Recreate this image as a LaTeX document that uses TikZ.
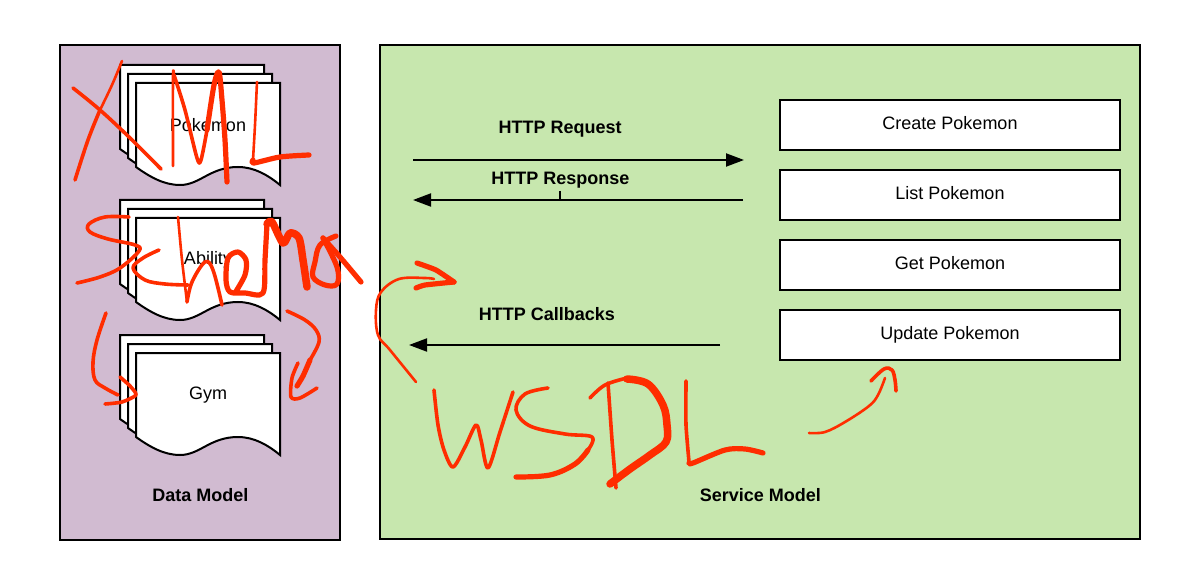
\documentclass[tikz,border=0pt]{standalone}
\usepackage{fontspec}
\setmainfont{Liberation Sans}
\usetikzlibrary{arrows.meta}
\definecolor{purplebg}{HTML}{D1BBD1}
\definecolor{greenbg}{HTML}{C7E7AE}
\definecolor{ink}{HTML}{FF2D00}
\tikzset{
  panel/.style={draw=black,line width=2pt},
  opbox/.style={draw=black,fill=white,line width=2pt,minimum width=340pt,minimum height=50pt,inner sep=0pt,font=\fontsize{18}{20}\selectfont},
  lbl/.style={font=\fontsize{18}{20}\selectfont,inner sep=0pt},
  blbl/.style={font=\fontsize{18}{20}\selectfont\bfseries,inner sep=0pt},
  flow/.style={draw=black,line width=2pt,-{Triangle[length=18pt,width=13pt]}},
  ink1/.style={draw=ink,line width=2.6pt,line cap=round,line join=round},
  ink2/.style={draw=ink,line width=3.6pt,line cap=round,line join=round},
  ink3/.style={draw=ink,line width=5.2pt,line cap=round,line join=round},
  ink4/.style={draw=ink,line width=7.5pt,line cap=round,line join=round},
  docsheet/.pic={
    \path[draw=black,fill=white,line width=2pt,line join=miter]
      (0,0) -- (0,84) .. controls (14,94) and (28,102) .. (44,102)
      .. controls (64,102) and (74,84) .. (102,84)
      .. controls (118,84) and (132,92) .. (144,102) -- (144,0) -- cycle;
  },
  docstack/.pic={
    \pic at (0,0) {docsheet};
    \pic at (8,9) {docsheet};
    \pic at (16,18) {docsheet};
  }
}
\begin{document}
\begin{tikzpicture}[x=1pt,y=-1pt]
\useasboundingbox (0,0) rectangle (1183,585);
\fill[white] (0,0) rectangle (1183,585);
% panels
\path[panel,fill=purplebg] (60,45) rectangle (340,540);
\path[panel,fill=greenbg] (380,45) rectangle (1140,539);
% documents
\pic at (120,65) {docstack};
\pic at (120,200) {docstack};
\pic at (120,335) {docstack};
\node[lbl] (pokemon) at (208,125) {Pokemon};
\node[lbl] (ability) at (208,260) {Ability};
\node[lbl] (gym) at (208,395) {Gym};
\node[blbl] (datamodel) at (200.3,495) {Data Model};
\node[blbl] (servicemodel) at (760.4,495) {Service Model};
% operations
\node[opbox] (create) at (950,125) {\raisebox{4pt}{Create Pokemon}};
\node[opbox] (list) at (950,195) {\raisebox{4pt}{List Pokemon}};
\node[opbox] (get) at (950,265) {\raisebox{4pt}{Get Pokemon}};
\node[opbox] (update) at (950,335) {\raisebox{4pt}{Update Pokemon}};
% flows
\node[blbl] (req) at (560.2,129) {HTTP Request};
\node[blbl] (resp) at (560.4,180) {HTTP Response};
\node[blbl] (cb) at (546.8,314) {HTTP Callbacks};
\coordinate (reqA) at (413,160); \coordinate (reqB) at (744,160);
\coordinate (respA) at (743,200); \coordinate (respB) at (413,200);
\coordinate (cbA) at (720,345); \coordinate (cbB) at (409,345);
\coordinate (tickA) at (560,191); \coordinate (tickB) at (560,200);
\draw[flow] (reqA) -- (reqB);
\draw[flow] (respA) -- (respB);
\draw[flow] (cbA) -- (cbB);
\draw[black,line width=1.5pt] (tickA) -- (tickB);
% handwriting: XML
\draw[ink1] plot[smooth,tension=.6] coordinates {(122,61) (112,85) (100,110)};
\draw[ink2] plot[smooth,tension=.6] coordinates {(100,110) (88,140) (75,180)};
\draw[ink2] plot[smooth,tension=.6] coordinates {(73,88) (100,110) (130,138) (161,169)};
\draw[ink1] plot[smooth,tension=.5] coordinates {(173,166) (173,76) (174,75)};
\draw[ink2] plot[smooth,tension=.5] coordinates {(174,75) (185,110) (197,158) (201,160) (207,130)};
\draw[ink3] plot[smooth,tension=.5] coordinates {(207,130) (214,85) (219,72) (222,100) (225,140) (227,182)};
\draw[ink1] plot[smooth,tension=.5] coordinates {(257,82) (255,125) (253,160)};
\draw[ink3] plot[smooth,tension=.5] coordinates {(253,160) (254,163) (280,157) (309,155)};
% Schema
\draw[ink2] plot[smooth,tension=.6] coordinates {(129,217) (105,217) (89,224) (90,232) (108,239) (135,245) (139,251) (120,268) (100,277) (77,283)};
\draw[ink2] plot[smooth,tension=.6] coordinates {(159,250) (143,258) (133,268) (145,280) (165,284) (188,285)};
\draw[ink1] plot[smooth,tension=.4] coordinates {(178,217) (182,260) (187,302)};
\draw[ink2] plot[smooth,tension=.6] coordinates {(187,302) (192,282) (205,262) (213,270) (222,305)};
\draw[ink3] plot[smooth,tension=.5] coordinates {(235,293) (245,275) (246,260) (238,252) (228,258) (226,280) (230,292) (245,293) (263,293) (265,260) (267,224)};
\draw[ink4] plot[smooth,tension=.5] coordinates {(267,224) (272,222) (283,243) (290,233) (299,238) (303,260) (307,287)};
\draw[ink3] plot[smooth,tension=.6] coordinates {(336,236) (320,245) (315,262) (313,277) (325,285) (337,284) (337,267) (323,238)};
\draw[ink3] plot[smooth,tension=.5] coordinates {(323,238) (340,257) (361,282)};
% arrow marks around Gym
\draw[ink2] plot[smooth,tension=.6] coordinates {(106,313) (97,340) (93,362) (95,380) (105,388) (118,395)};
\draw[ink2] plot[smooth,tension=.4] coordinates {(120,377) (130,386) (136,395) (122,402) (105,404)};
\draw[ink2] plot[smooth,tension=.6] coordinates {(287,311) (305,320) (316,330) (319,342) (310,360)};
\draw[ink3] plot[smooth,tension=.4] coordinates {(310,360) (303,376) (297,386)};
\draw[ink2] plot[smooth,tension=.5] coordinates {(298,363) (292,378) (291,397) (300,398) (317,388)};
% arrow to callbacks
\draw[ink1] plot[smooth,tension=.6] coordinates {(416,382) (390,350) (378,335) (376,310) (381,292) (399,279) (425,278) (434,279)};
\draw[ink3] plot[smooth,tension=.3] coordinates {(416,288) (425,285) (454,282)};
\draw[ink3] plot[smooth,tension=.3] coordinates {(417,263) (436,270) (454,282)};
% WSDL
\draw[ink2] plot[smooth,tension=.5] coordinates {(434,390) (438,425) (444,450) (453,467) (465,447) (476,425) (481,440) (488,468) (500,432) (513,392)};
\draw[ink2] plot[smooth,tension=.6] coordinates {(548,388) (525,394) (516,410) (530,426) (565,434) (592,437) (588,450)};
\draw[ink3] plot[smooth,tension=.6] coordinates {(588,450) (575,464) (550,475) (516,477)};
\draw[ink2] plot[smooth,tension=.2] coordinates {(608,383) (612,440) (616,488)};
\draw[ink2] plot[smooth,tension=.6] coordinates {(590,398) (605,385) (627,378)};
\draw[ink4] plot[smooth,tension=.6] coordinates {(627,379) (648,384) (663,405) (667,425) (666,442) (650,455) (630,469) (610,484)};
\draw[ink2] plot[smooth,tension=.3] coordinates {(686,381) (686,425) (689,462)};
\draw[ink3] plot[smooth,tension=.5] coordinates {(689,463) (693,463) (725,450) (745,449) (763,453)};
% arrow to Update
\draw[ink1] plot[smooth,tension=.6] coordinates {(809,433) (825,432) (845,422) (869,406) (878,395) (885,378)};
\draw[ink2] plot[smooth,tension=.6] coordinates {(871,381) (884,369) (892,370) (895,380) (896,391)};
\end{tikzpicture}
\end{document}
